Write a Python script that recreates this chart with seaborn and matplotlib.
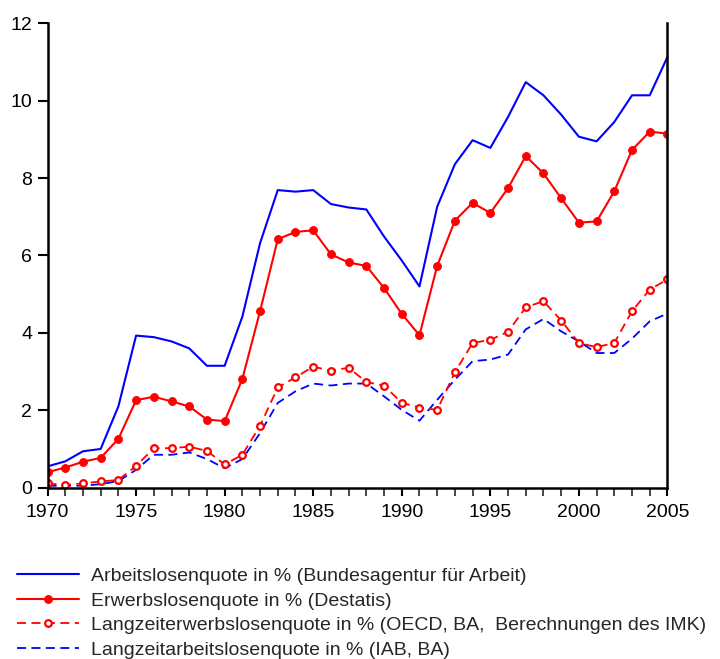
import numpy as np
import pandas as pd
import matplotlib
matplotlib.use("Agg")
import matplotlib.pyplot as plt
import seaborn as sns

years = list(range(1970, 2006))

# Arbeitslosenquote (BA)
alq_ba = [0.55, 0.68, 0.94, 1.0, 2.1, 3.93, 3.89, 3.78, 3.6, 3.15, 3.15, 4.42,
          6.32, 7.69, 7.65, 7.69, 7.33, 7.24, 7.19, 6.49, 5.87, 5.2, 7.26,
          8.36, 8.98, 8.78, 9.58, 10.48, 10.14, 9.64, 9.07, 8.95, 9.45,
          10.14, 10.14, 11.13]
# Erwerbslosenquote (Destatis)
elq_destatis = [0.4, 0.52, 0.67, 0.77, 1.26, 2.26, 2.35, 2.23, 2.1, 1.76, 1.72,
                2.81, 4.56, 6.42, 6.61, 6.65, 6.03, 5.82, 5.73, 5.16, 4.49, 3.94,
                5.73, 6.9, 7.36, 7.1, 7.74, 8.57, 8.12, 7.48, 6.85, 6.88, 7.66,
                8.73, 9.2, 9.15]
# Langzeiterwerbslosenquote (OECD, BA, IMK)
lzelq = [0.11, 0.07, 0.11, 0.16, 0.2, 0.56, 1.02, 1.02, 1.06, 0.95, 0.6, 0.85,
         1.6, 2.59, 2.85, 3.13, 3.02, 3.1, 2.73, 2.64, 2.19, 2.07, 2.01, 2.98,
         3.74, 3.82, 4.03, 4.66, 4.82, 4.32, 3.74, 3.63, 3.74, 4.56, 5.12, 5.38]
# Langzeitarbeitslosenquote (IAB, BA)
lzalq = [0.05, 0.05, 0.05, 0.09, 0.17, 0.46, 0.85, 0.85, 0.91, 0.74, 0.5, 0.74,
         1.41, 2.19, 2.49, 2.69, 2.64, 2.69, 2.69, 2.36, 2.01, 1.73, 2.27, 2.79,
         3.27, 3.31, 3.44, 4.09, 4.36, 4.04, 3.78, 3.48, 3.48, 3.85, 4.3, 4.5]

labels = ["Arbeitslosenquote in % (Bundesagentur für Arbeit)",
          "Erwerbslosenquote in % (Destatis)",
          "Langzeiterwerbslosenquote in % (OECD, BA,  Berechnungen des IMK)",
          "Langzeitarbeitslosenquote in % (IAB, BA)"]

df = pd.DataFrame({"year": years, "alq": alq_ba, "elq": elq_destatis,
                   "lzelq": lzelq, "lzalq": lzalq})

sns.set_style("ticks")
plt.rcParams["font.family"] = ["Liberation Sans", "DejaVu Sans"]

fig = plt.figure(figsize=(7.2, 6.59), dpi=100)
ax = fig.add_axes([0.066, 0.26, 0.861, 0.7046])

blue = "#0000ff"
red = "#ff0000"
sns.lineplot(data=df, x="year", y="lzalq", ax=ax, color=blue, lw=1.3,
             linestyle=(0, (5, 3)), label=labels[3])
sns.lineplot(data=df, x="year", y="lzelq", ax=ax, color=red, lw=1.3,
             linestyle=(0, (5, 3)), marker="o", markersize=4.8,
             markerfacecolor="white", markeredgecolor=red, markeredgewidth=1.6,
             label=labels[2])
sns.lineplot(data=df, x="year", y="elq", ax=ax, color=red, lw=1.5,
             marker="o", markersize=5.6, markeredgecolor=red, label=labels[1])
sns.lineplot(data=df, x="year", y="alq", ax=ax, color=blue, lw=1.5,
             label=labels[0])

ax.set_xlim(1970, 2005)
ax.set_ylim(0, 12)
ax.set_xticks(range(1970, 2006, 5))
ax.set_xticks(range(1970, 2006), minor=True)
ax.set_yticks(range(0, 13, 2))
ax.set_xlabel("")
ax.set_ylabel("")
ax.tick_params(axis="both", which="major", labelsize=14, colors="black")
ax.tick_params(axis="y", which="major", length=7, width=1.5, pad=4)
ax.tick_params(axis="x", which="minor", length=6, width=1.2)
ax.tick_params(axis="x", which="major", length=6, width=1.5, pad=6)
ax.spines["top"].set_visible(False)
for s in ["left", "bottom", "right"]:
    ax.spines[s].set_linewidth(1.8)
    ax.spines[s].set_color("black")

handles, labs = ax.get_legend_handles_labels()
ax.get_legend().remove()
order = [3, 2, 1, 0]
fig.legend([handles[i] for i in order], [labs[i] for i in order],
           loc="upper left", bbox_to_anchor=(0.0236, 0.139), frameon=False,
           fontsize=14, handlelength=3.2, handletextpad=0.6,
           labelspacing=0.36, borderaxespad=0, borderpad=0)

fig.savefig("out.png", dpi=100)
